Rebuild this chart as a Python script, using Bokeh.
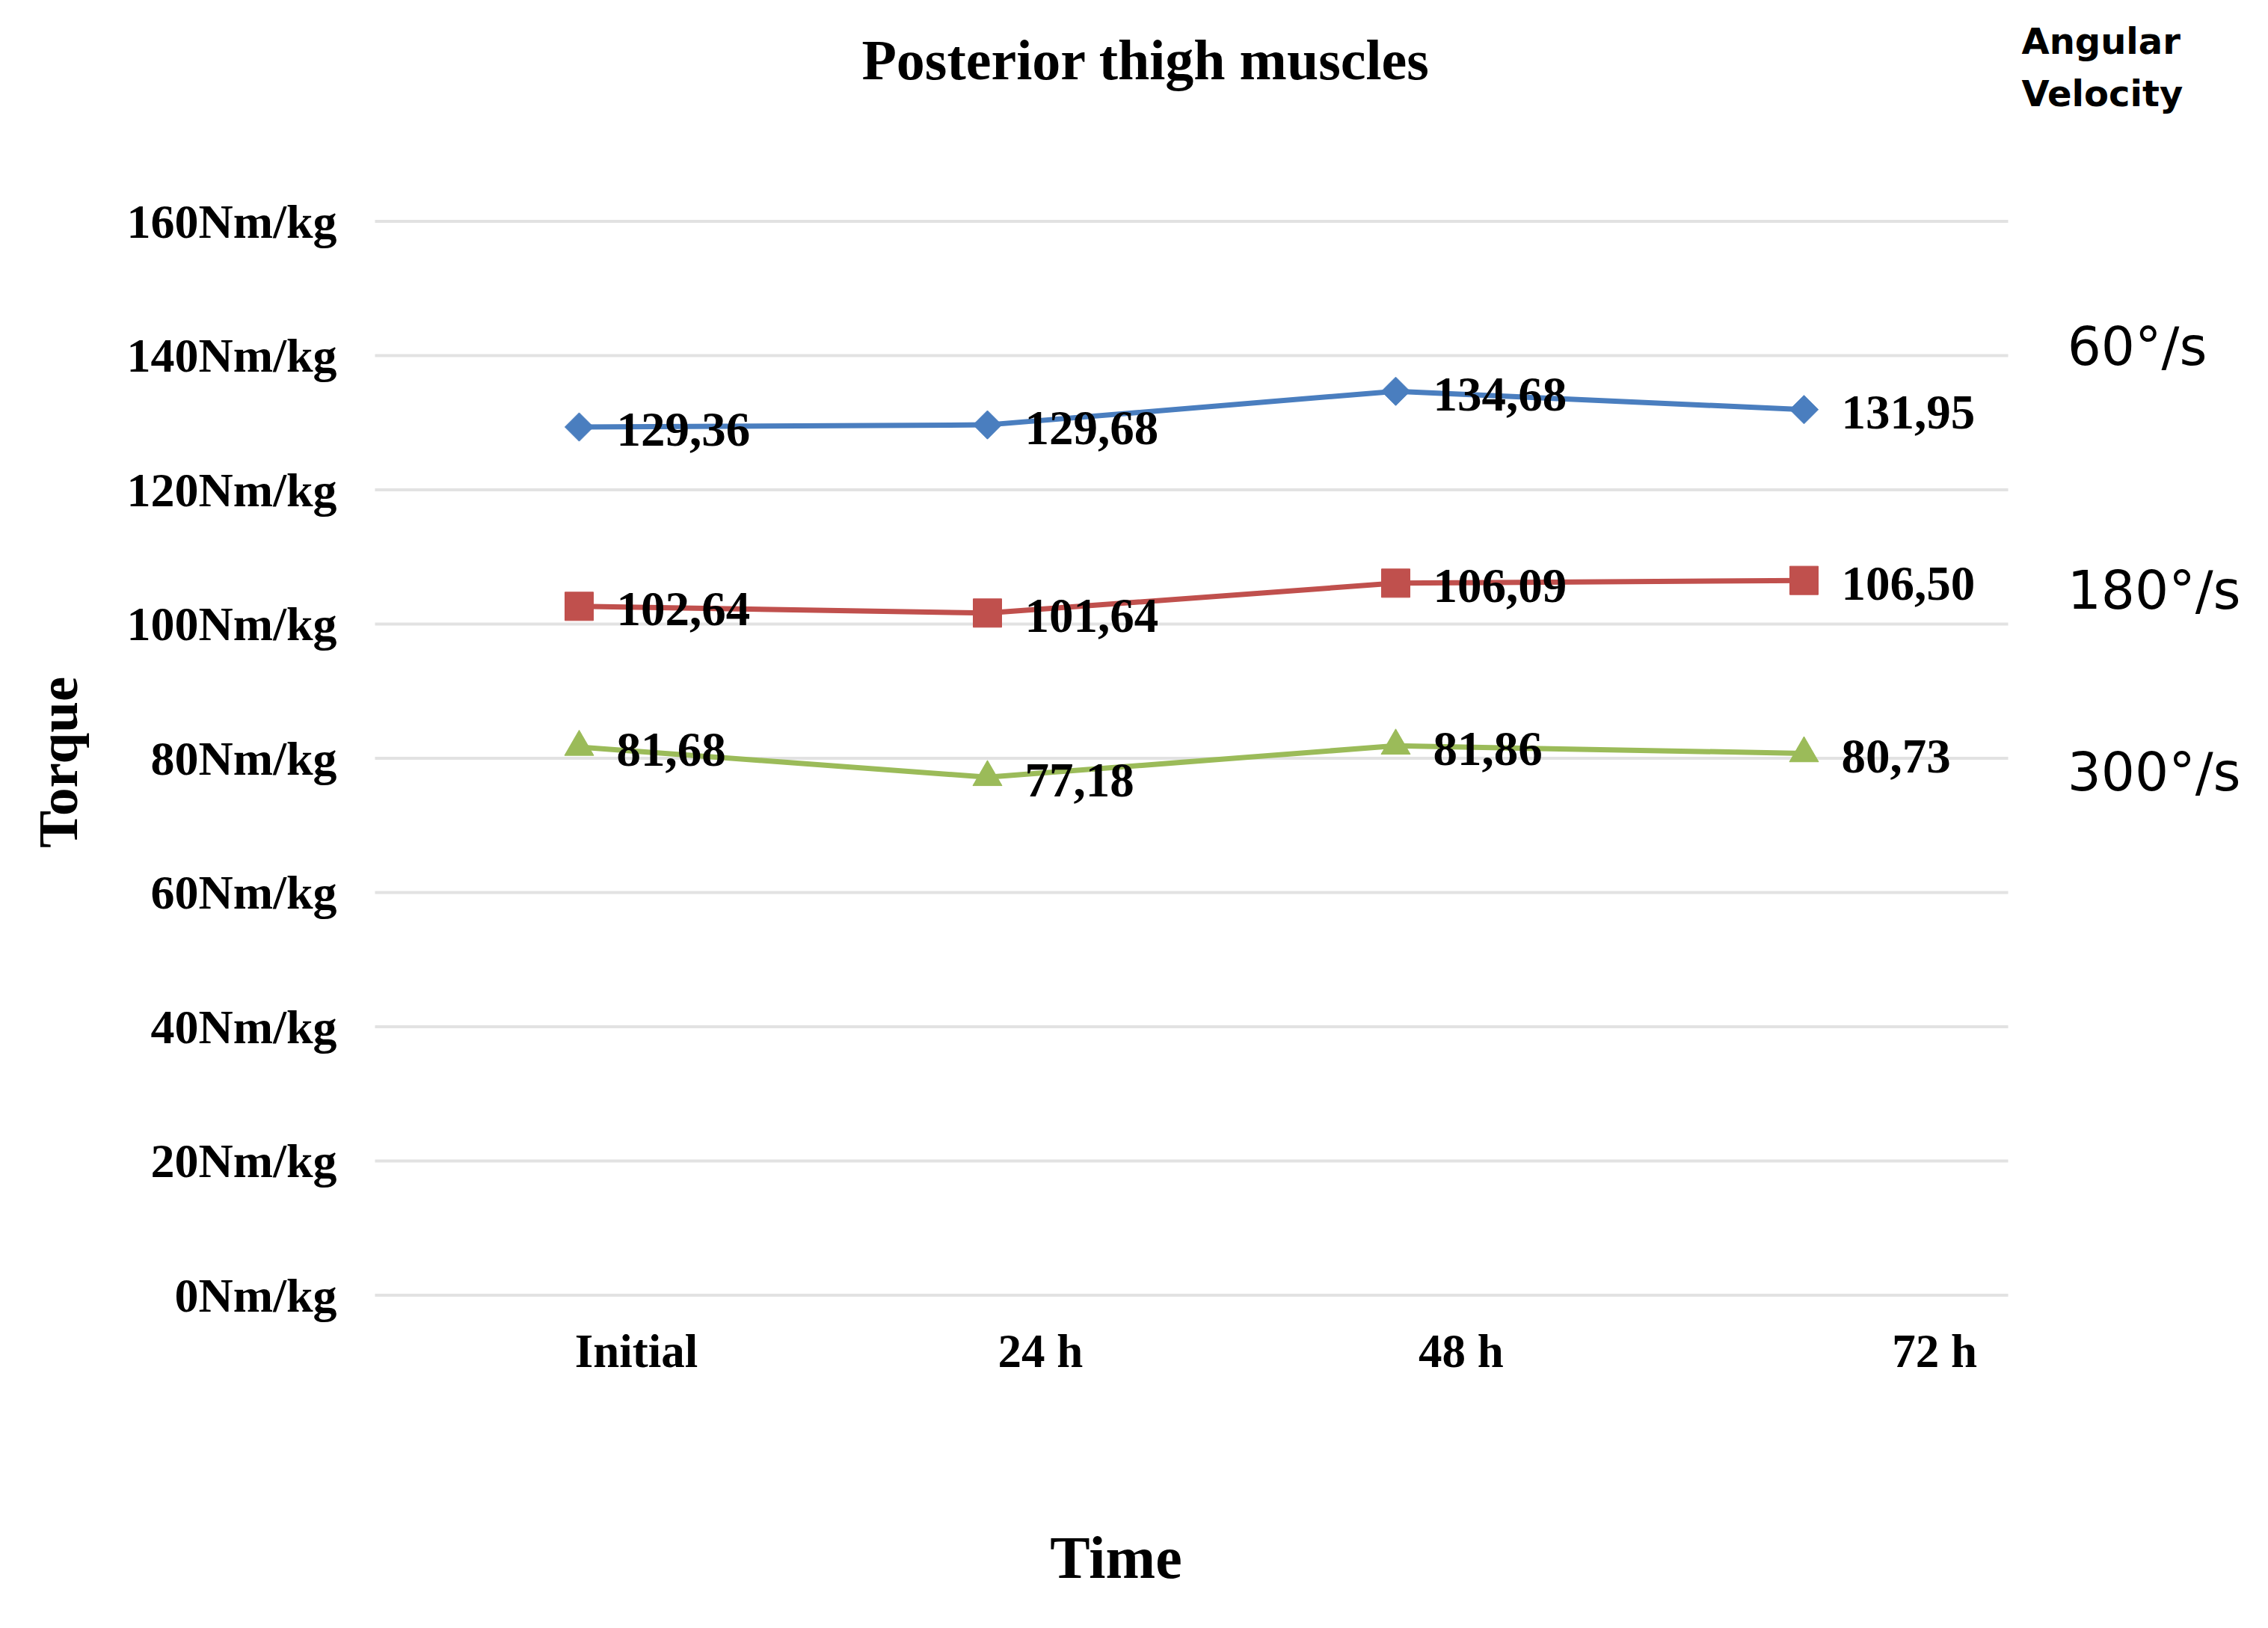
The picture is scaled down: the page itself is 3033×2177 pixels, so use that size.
import math
from bokeh.plotting import figure
from bokeh.models import Range1d, FixedTicker, PrintfTickFormatter, LinearAxis
from bokeh.core.properties import value
from bokeh.embed import file_html
from bokeh.resources import INLINE

# ---- data ----
categories = ["Initial", "24 h", "48 h", "72 h"]
torque_60 = [129.36, 129.68, 134.68, 131.95]
torque_180 = [102.64, 101.64, 106.09, 106.50]
torque_300 = [81.68, 77.18, 81.86, 80.73]
series_names = ["60°/s", "180°/s", "300°/s"]
y_ticks = [0, 20, 40, 60, 80, 100, 120, 140, 160]
title_text = "Posterior thigh muscles"
legend_title = ["Angular", "Velocity"]
x_title = "Time"
y_title = "Torque"

# ---- styling / layout ----
SERIF = "Liberation Serif"
SANS = "DejaVu Sans"
BLUE = "#4A7EBF"
RED = "#C0504D"
GREEN = "#9BBB59"
W, H = 3010, 2150
X0, PX_X = 501.0, 546.0      # canvas x of x=0, px per category
Y0, PX_Y = 1731.5, 8.975     # canvas y of 0 Nm/kg, px per unit

xs = [i + 0.5 for i in range(len(categories))]
label_pos = [0.64, 1.63, 2.66, 3.82]   # where the category labels sit

p = figure(width=W, height=H, output_backend="svg", toolbar_location=None,
           x_range=Range1d(-X0 / PX_X, (W - X0) / PX_X),
           y_range=Range1d((Y0 - H) / PX_Y, Y0 / PX_Y),
           x_axis_location=None, y_axis_location=None,
           min_border=0, min_border_left=0, min_border_right=0,
           min_border_top=0, min_border_bottom=0)
p.background_fill_color = "white"
p.border_fill_color = "white"
p.outline_line_color = None
p.xgrid.visible = False
p.ygrid.visible = False

# y axis (drawn at x = 0)
yaxis = LinearAxis(fixed_location=0, ticker=FixedTicker(ticks=y_ticks),
                   formatter=PrintfTickFormatter(format="%dNm/kg"))
yaxis.axis_line_color = None
yaxis.major_tick_line_color = None
yaxis.minor_tick_line_color = None
yaxis.major_tick_in = 0
yaxis.major_tick_out = 0
yaxis.major_label_standoff = 51
yaxis.major_label_text_font = SERIF
yaxis.major_label_text_font_style = "bold"
yaxis.major_label_text_font_size = "64px"
yaxis.major_label_text_color = "black"
p.add_layout(yaxis, "left")

# x axis (drawn at y = 0)
xaxis = LinearAxis(fixed_location=0, ticker=FixedTicker(ticks=label_pos))
xaxis.major_label_overrides = {pos: c for pos, c in zip(label_pos, categories)}
xaxis.axis_line_color = None
xaxis.major_tick_line_color = None
xaxis.minor_tick_line_color = None
xaxis.major_tick_in = 0
xaxis.major_tick_out = 0
xaxis.major_label_standoff = 40
xaxis.major_label_text_font = SERIF
xaxis.major_label_text_font_style = "bold"
xaxis.major_label_text_font_size = "63px"
xaxis.major_label_text_color = "black"
p.add_layout(xaxis, "below")

# horizontal grid lines over the category span
n = len(categories)
p.segment(x0=[0] * len(y_ticks), x1=[n] * len(y_ticks), y0=y_ticks, y1=y_ticks,
          line_color="#E2E2E2", line_width=4)

# series
series = [
    (torque_60, BLUE, "square", 27, math.pi / 4),
    (torque_180, RED, "square", 38, 0.0),
    (torque_300, GREEN, "triangle", 39, 0.0),
]
for vals, col, mk, sz, ang in series:
    p.line(xs, vals, line_color=col, line_width=7)
    p.scatter(xs, vals, marker=mk, size=sz, angle=ang, fill_color=col, line_color=col)
    p.text(x=xs, y=vals, text=[f"{v:.2f}".replace(".", ",") for v in vals],
           x_offset=50, y_offset=4, text_align="left", text_baseline="middle",
           text_font=value(SERIF), text_font_style="bold", text_font_size="65px",
           text_color="black")

# titles
p.text(x=[1.888], y=[184.1], text=[title_text], text_align="center",
       text_baseline="middle", text_font=value(SERIF), text_font_style="bold",
       text_font_size="76px", text_color="black")
p.text(x=[1.815], y=[-39.1], text=[x_title], text_align="center",
       text_baseline="middle", text_font=value(SERIF), text_font_style="bold",
       text_font_size="80px", text_color="black")
p.text(x=[-0.7757], y=[79.4], text=[y_title], angle=math.pi / 2, text_align="center",
       text_baseline="middle", text_font=value(SERIF), text_font_style="bold",
       text_font_size="75px", text_color="black")

# right-hand series names (legend-like)
p.text(x=[4.145] * 3, y=[141.3, 105.0, 77.9], text=series_names, text_align="left",
       text_baseline="middle", text_font=value(SANS), text_font_size="71px",
       text_color="black")
p.text(x=[4.033] * 2, y=[186.9, 179.1], text=legend_title, text_align="left",
       text_baseline="middle", text_font=value(SANS), text_font_style="bold",
       text_font_size="48px", text_color="black")

open("out.html", "w").write(file_html(p, INLINE))
